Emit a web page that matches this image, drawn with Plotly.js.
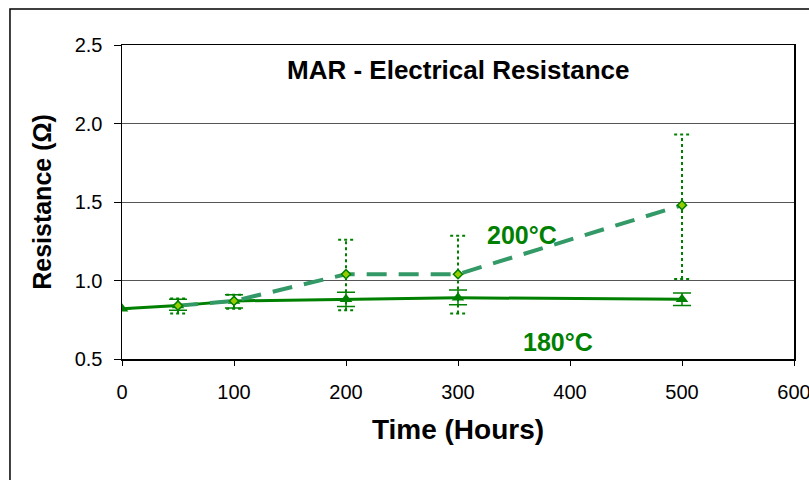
<!DOCTYPE html>
<html>
<head>
<meta charset="utf-8">
<script src="https://cdn.plot.ly/plotly-3.0.1.min.js"></script>
<style>html,body{margin:0;padding:0;background:#fff;}#chart{width:809px;height:480px;}</style>
</head>
<body>
<div id="chart"></div>
<script>
// ---- data ----
var time180 = [0, 50, 100, 200, 300, 500];
var res180 = [0.82, 0.84, 0.87, 0.88, 0.89, 0.88];
var err180Plus = [null, 0.04, 0.04, 0.045, 0.05, 0.04];
var err180Minus = [null, 0.03, 0.045, 0.045, 0.045, 0.04];

var time200 = [50, 100, 200, 300, 500];
var res200 = [0.84, 0.87, 1.04, 1.04, 1.48];
var err200Plus = [0.045, 0.04, 0.22, 0.245, 0.45];
var err200Minus = [0.05, 0.05, 0.23, 0.25, 0.47];

var xTicks = [0, 100, 200, 300, 400, 500, 600];
var yTicks = [0.5, 1.0, 1.5, 2.0, 2.5];
var yTickText = ['0.5', '1.0', '1.5', '2.0', '2.5'];

var titleText = 'MAR - Electrical Resistance';
var xTitle = 'Time (Hours)';
var yTitle = 'Resistance (Ω)';
var label180 = '180°C';
var label200 = '200°C';

// ---- dotted error bars for 200°C built from the data ----
var capHalf = 7; // in hours
var ebX = [], ebY = [];
for (var i = 0; i < time200.length; i++) {
  var x = time200[i], lo = res200[i] - err200Minus[i], hi = res200[i] + err200Plus[i];
  ebX.push(x, x, null, x - capHalf, x + capHalf, null, x - capHalf, x + capHalf, null);
  ebY.push(lo, hi, null, hi, hi, null, lo, lo, null);
}

var green = '#008000';
var seaGreen = '#339966';
var font = 'Liberation Sans, Arial, sans-serif';

var traces = [
  {
    x: ebX, y: ebY, mode: 'lines', type: 'scatter',
    line: {color: green, width: 2, dash: 'dot'},
    hoverinfo: 'skip', showlegend: false
  },
  {
    x: time180, y: res180, mode: 'lines+markers', type: 'scatter', name: label180,
    line: {color: green, width: 3},
    marker: {symbol: 'triangle-up', size: 11, color: green},
    error_y: {type: 'data', symmetric: false, array: err180Plus, arrayminus: err180Minus,
              color: green, thickness: 1.5, width: 9},
    showlegend: false
  },
  {
    x: time200, y: res200, mode: 'lines+markers', type: 'scatter', name: label200,
    line: {color: seaGreen, width: 4, dash: '20px,12px'},
    marker: {symbol: 'diamond', size: 7, color: '#99CC00', line: {color: green, width: 1.5}},
    showlegend: false
  }
];

var layout = {
  width: 809, height: 480,
  margin: {l: 122, r: 15, t: 45, b: 121},
  paper_bgcolor: '#ffffff', plot_bgcolor: '#ffffff',
  font: {family: font, color: '#000'},
  showlegend: false,
  xaxis: {
    range: [0, 600], tickvals: xTicks, ticktext: xTicks.map(String),
    showgrid: false, zeroline: false,
    showline: true, linecolor: '#000', linewidth: 1.5, mirror: true,
    ticks: 'outside', ticklen: 5, tickcolor: '#000', tickwidth: 1,
    ticklabelstandoff: 9, ticklabeloverflow: 'allow',
    tickfont: {size: 20, family: font, color: '#000', weight: 'normal'},
    title: {text: '<b>' + xTitle + '</b>', font: {size: 28, family: font, color: '#000'}, standoff: 18}
  },
  yaxis: {
    range: [0.5, 2.5], tickvals: yTicks, ticktext: yTickText,
    showgrid: true, gridcolor: '#555', gridwidth: 1, zeroline: false,
    showline: true, linecolor: '#000', linewidth: 1.5, mirror: true,
    ticks: 'outside', ticklen: 7, tickcolor: '#000', tickwidth: 1,
    ticklabelstandoff: 7,
    tickfont: {size: 20, family: font, color: '#000', weight: 'normal'},
    title: {text: '<b>' + yTitle + '</b>', font: {size: 25, family: font, color: '#000'}, standoff: 16}
  },
  annotations: [
    {xref: 'paper', yref: 'paper', x: 0.5, y: 0.92, xanchor: 'center', yanchor: 'middle',
     text: '<b>' + titleText + '</b>', showarrow: false, font: {size: 26, family: font, color: '#000'}},
    {xref: 'x', yref: 'y', x: 357, y: 1.29, text: '<b>' + label200 + '</b>', showarrow: false,
     font: {size: 25, family: font, color: green}},
    {xref: 'x', yref: 'y', x: 389, y: 0.61, text: '<b>' + label180 + '</b>', showarrow: false,
     font: {size: 25, family: font, color: green}}
  ],
  shapes: [
    {type: 'rect', xref: 'paper', yref: 'paper', x0: -0.1667, x1: 1.2, y0: -0.45, y1: 1.1146,
     line: {color: '#000', width: 1.5}, fillcolor: 'rgba(0,0,0,0)', layer: 'above'}
  ]
};

Plotly.newPlot('chart', traces, layout, {displayModeBar: false, staticPlot: true});
</script>
</body>
</html>
